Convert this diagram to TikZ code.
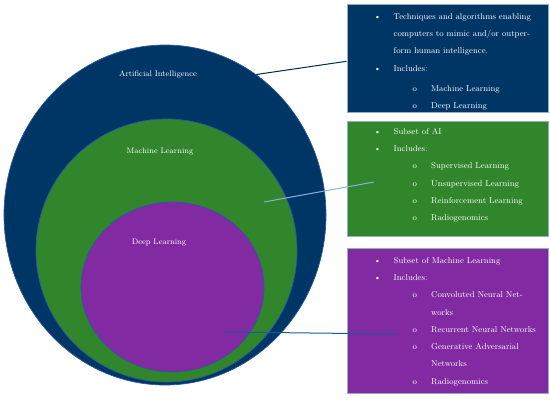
\documentclass[tikz,border=0pt]{standalone}
\usepackage{xcolor}
\usetikzlibrary{shapes.geometric, positioning}
\definecolor{aiblue}{RGB}{0,54,102}
\definecolor{mlgreen}{RGB}{49,134,44}
\definecolor{dlpurple}{RGB}{129,42,162}
\definecolor{rimblue}{RGB}{40,90,160}
\definecolor{boxrim}{RGB}{150,175,200}
\definecolor{mlline}{RGB}{140,175,225}
\definecolor{dlline}{RGB}{25,90,155}
\newcommand{\outeritem}[1]{\makebox[19.5pt][l]{\textbullet}#1}
\newcommand{\inneritem}[1]{\makebox[38.5pt]{}\makebox[18.5pt][l]{o}#1}
\newcommand{\outercont}[1]{\makebox[19.5pt]{}#1}
\newcommand{\innercont}[1]{\makebox[57pt]{}#1}

\begin{document}
\begin{tikzpicture}[x = 1pt, y = -1pt,
		field/.style = { ellipse, draw = rimblue, line width = 0.7pt, inner sep = 0pt },
		card/.style = { draw = boxrim, line width = 0.6pt, minimum width = 201pt, inner sep = 0pt },
		caption/.style = { text = white, font = \fontsize{8}{10}\selectfont },
		listing/.style = { text = white, align = left, inner sep = 0pt, anchor = north west, font = \fontsize{8.5}{17.3}\selectfont }]
		\useasboundingbox (0,0) rectangle (550,408);

		\node [field, fill = aiblue, minimum width = 322pt, minimum height = 340pt]   (ai) at (165,215) {};
		\node [field, fill = mlgreen, minimum width = 261pt, minimum height = 263pt]  (ml) at (166.5,250.5) {};
		\node [field, fill = dlpurple, minimum width = 183pt, minimum height = 170pt] (dl) at (172.5,287) {};

		\node [caption] (ailabel) at (158,74)  {Artificial Intelligence};
		\node [caption] (mllabel) at (160,152) {Machine Learning};
		\node [caption] (dllabel) at (159,243) {Deep Learning};

		\node [card, fill = aiblue, minimum height = 108pt, anchor = north west] (aibox) at (346.5,4) {};
		\node [card, fill = mlgreen, minimum height = 115pt, below = 8pt of aibox]   (mlbox) {};
		\node [card, fill = dlpurple, minimum height = 145pt, below = 12pt of mlbox] (dlbox) {};

		\node [listing] (aitext) at (374,13) {\outeritem{Techniques and algorithms enabling}\\
			\outercont{computers to mimic and/or outper-}\\
			\outercont{form human intelligence.}\\
			\outeritem{Includes:}\\[2.7pt]
			\inneritem{Machine Learning}\\
			\inneritem{Deep Learning}};

		\node [listing] (mltext) at (374,128) {\outeritem{Subset of AI}\\
			\outeritem{Includes:}\\
			\inneritem{Supervised Learning}\\
			\inneritem{Unsupervised Learning}\\
			\inneritem{Reinforcement Learning}\\
			\inneritem{Radiogenomics}};

		\node [listing] (dltext) at (374,257) {\outeritem{Subset of Machine Learning}\\
			\outeritem{Includes:}\\
			\inneritem{Convoluted Neural Net-}\\
			\innercont{works}\\
			\inneritem{Recurrent Neural Networks}\\
			\inneritem{Generative Adversarial}\\
			\innercont{Networks}\\
			\inneritem{Radiogenomics}};

		\coordinate (mlfrom) at (264,202);
		\coordinate (mlto)   at (374,182);
		\coordinate (dlfrom) at (224,332);
		\coordinate (dlto)   at (398,334);

		\draw [aiblue!80!black, line width = 1pt] (ai.57.6) -- ([yshift = -3pt]aibox.west);
		\draw [mlline, line width = 1pt] (mlfrom) -- (mlto);
		\draw [dlline, line width = 1pt] (dlfrom) -- (dlto);
	\end{tikzpicture}
\end{document}
